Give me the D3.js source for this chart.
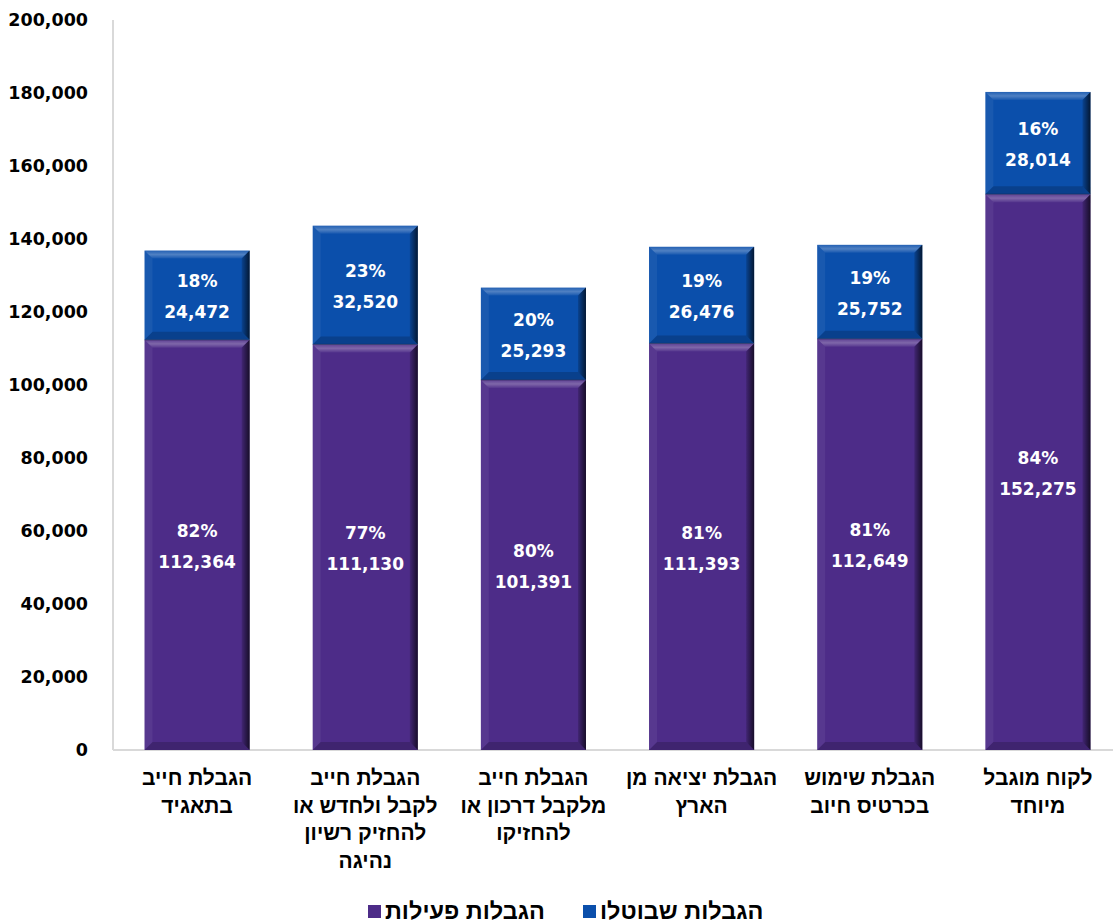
<!DOCTYPE html>
<html><head><meta charset="utf-8">
<script src="https://cdn.jsdelivr.net/npm/d3@7"></script>
<style>body{margin:0;background:#fff}svg{display:block}</style>
</head><body>
<svg id="c" width="1115" height="924"></svg>
<script>
const categories = [
  ["הגבלת חייב","בתאגיד"],
  ["הגבלת חייב","לקבל ולחדש או","להחזיק רשיון","נהיגה"],
  ["הגבלת חייב","מלקבל דרכון או","להחזיקו"],
  ["הגבלת יציאה מן","הארץ"],
  ["הגבלת שימוש","בכרטיס חיוב"],
  ["לקוח מוגבל","מיוחד"]
];
const activeVals = [112364,111130,101391,111393,112649,152275];
const cancelledVals = [24472,32520,25293,26476,25752,28014];
const activePct = ["82%","77%","80%","81%","81%","84%"];
const cancelledPct = ["18%","23%","20%","19%","19%","16%"];
const yTicks = [0,20000,40000,60000,80000,100000,120000,140000,160000,180000,200000];
const seriesNames = ["הגבלות פעילות","הגבלות שבוטלו"];
const colors = ["#4d2c88","#0b4fab"];

const svg = d3.select("#c");
const x = d3.scaleBand().domain(d3.range(categories.length)).range([113,1122]).paddingInner(0.375).paddingOuter(0.1875);
const y = d3.scaleLinear().domain([0,200000]).range([750,20]);
const fmt = d3.format(",");

svg.append("line").attr("x1",113).attr("x2",113).attr("y1",y(200000)).attr("y2",y(0)).attr("stroke","#d9d9d9").attr("stroke-width",2);
svg.append("line").attr("x1",113).attr("x2",1113).attr("y1",y(0)).attr("y2",y(0)).attr("stroke","#d9d9d9").attr("stroke-width",2);

const yAxis = d3.axisLeft(y).tickValues(yTicks).tickFormat(fmt).tickSize(0).tickPadding(0);
const ga = svg.append("g").attr("transform","translate(88,0)").call(yAxis);
ga.select(".domain").remove();
ga.selectAll("text").attr("font-family","DejaVu Sans").attr("font-weight","bold").attr("font-size","17.5px").attr("fill","#000");

const defs = svg.append("defs");
const rg = defs.append("linearGradient").attr("id","rgrad").attr("x1","0").attr("x2","1").attr("y1","0").attr("y2","0");
rg.append("stop").attr("offset","0").attr("stop-color","#000").attr("stop-opacity",0.15);
rg.append("stop").attr("offset","1").attr("stop-color","#000").attr("stop-opacity",0.7);
const tg = defs.append("linearGradient").attr("id","tgrad").attr("x1","0").attr("x2","0").attr("y1","0").attr("y2","1");
tg.append("stop").attr("offset","0").attr("stop-color","#fff").attr("stop-opacity",0.1);
tg.append("stop").attr("offset","0.5").attr("stop-color","#fff").attr("stop-opacity",0.28);
tg.append("stop").attr("offset","1").attr("stop-color","#fff").attr("stop-opacity",0.05);

function bevelSeg(g, x0, y0, w, h, color){
  const b = Math.min(8, h/2);
  g.append("rect").attr("x",x0).attr("y",y0).attr("width",w).attr("height",h).attr("fill",color);
  g.append("polygon").attr("points",[[x0,y0],[x0+w,y0],[x0+w-b,y0+b],[x0+b,y0+b]].join(" ")).attr("fill","url(#tgrad)");
  g.append("polygon").attr("points",[[x0,y0],[x0+b,y0+b],[x0+b,y0+h-b],[x0,y0+h]].join(" ")).attr("fill","#fff").attr("opacity",0.06);
  g.append("polygon").attr("points",[[x0,y0+h],[x0+b,y0+h-b],[x0+w-b,y0+h-b],[x0+w,y0+h]].join(" ")).attr("fill","#000").attr("opacity",0.18);
  g.append("polygon").attr("points",[[x0+w,y0],[x0+w-b,y0+b],[x0+w-b,y0+h-b],[x0+w,y0+h]].join(" ")).attr("fill","url(#rgrad)");
}

const bars = svg.append("g");
categories.forEach((c,i)=>{
  const x0 = x(i), w = x.bandwidth();
  const a = activeVals[i], cv = cancelledVals[i];
  const g = bars.append("g");
  bevelSeg(g, x0, y(a), w, y(0)-y(a), colors[0]);
  bevelSeg(g, x0, y(a+cv), w, y(a)-y(a+cv), colors[1]);
  g.append("line").attr("x1",x0).attr("x2",x0+w).attr("y1",y(a)).attr("y2",y(a)).attr("stroke","#1a1a40").attr("stroke-opacity",0.5).attr("stroke-width",1);
  const labs = [[a, activePct[i], (y(0)+y(a))/2],[cv, cancelledPct[i], (y(a)+y(a+cv))/2]];
  labs.forEach(([v,p,m])=>{
    const t = g.append("text").attr("x",x0+w/2).attr("text-anchor","middle").attr("fill","#fff")
      .attr("font-family","DejaVu Sans").attr("font-weight","bold").attr("font-size","17px");
    t.append("tspan").attr("x",x0+w/2).attr("y",m-14).attr("dy","0.35em").text(p);
    t.append("tspan").attr("x",x0+w/2).attr("y",m+17).attr("dy","0.35em").text(fmt(v));
  });
});

categories.forEach((lines,i)=>{
  const t = svg.append("text").attr("text-anchor","middle").attr("font-family","Liberation Sans, Arial").attr("font-weight","bold").attr("font-size","21px").attr("fill","#000");
  lines.forEach((l,j)=>{
    t.append("tspan").attr("x",x(i)+x.bandwidth()/2).attr("y",778+j*27.5).attr("dy","0.35em").text(l);
  });
});

const leg = [{x:368, i:0},{x:583, i:1}];
leg.forEach(d=>{
  svg.append("rect").attr("x",d.x).attr("y",905).attr("width",13).attr("height",13).attr("fill",colors[d.i]);
  svg.append("text").attr("x",d.x+17).attr("y",911).attr("dy","0.35em").attr("font-family","Liberation Sans, Arial").attr("font-weight","bold").attr("font-size","23.5px").attr("fill","#000").text(seriesNames[d.i]);
});
</script>
</body></html>
